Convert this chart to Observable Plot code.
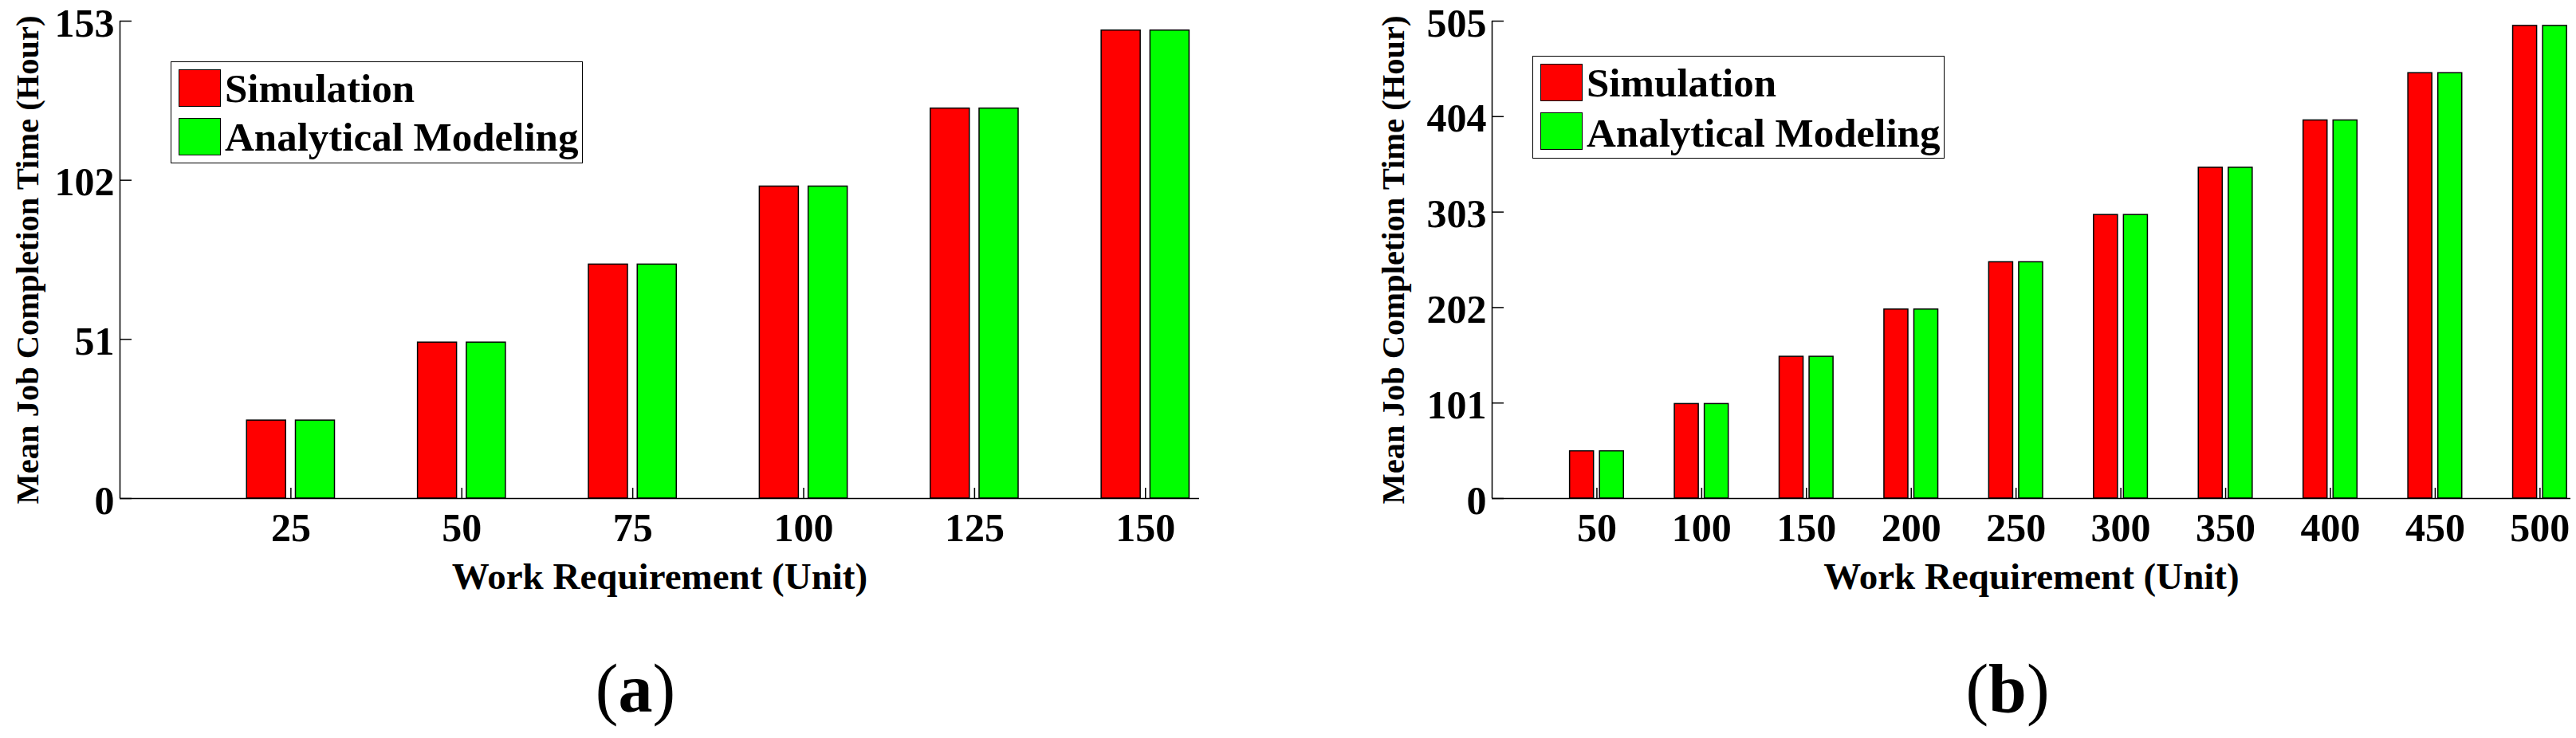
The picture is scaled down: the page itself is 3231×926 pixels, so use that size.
<!DOCTYPE html>
<html>
<head>
<meta charset="utf-8">
<script src="https://cdn.jsdelivr.net/npm/d3@7"></script>
<script src="https://cdn.jsdelivr.net/npm/@observablehq/plot@0.6"></script>
<style>
  html, body { margin: 0; padding: 0; background: #fff; }
  #wrap { position: relative; width: 3231px; height: 926px; overflow: hidden; background: #fff;
          font-family: "Liberation Serif", "Times New Roman", serif; }
  .panel { position: absolute; top: 0; }
  .legend { position: absolute; box-sizing: border-box; border: 1.5px solid #000; background: #fff; }
  .legend .sw { position: absolute; box-sizing: border-box; width: 53px; height: 47px; border: 1px solid #000; }
  .legend .lb { position: absolute; font-weight: bold; font-size: 51px; line-height: 51px; white-space: nowrap; color: #000; }
  .caption { position: absolute; width: 400px; text-align: center; font-size: 86px; line-height: 86px; color: #000; }
  .caption b { font-weight: bold; }
</style>
</head>
<body>
<div id="wrap"></div>
<script>
// ---------- data ----------
const seriesNames = ["Simulation", "Analytical Modeling"];
const seriesColors = ["#ff0000", "#00ff00"];

const workA = [25, 50, 75, 100, 125, 150];
const simA  = [25, 50, 75, 100, 125, 150];
const anaA  = [25, 50, 75, 100, 125, 150];
const yTicksA = [0, 51, 102, 153];
const xLimA = [0, 157.9];

const workB = [50, 100, 150, 200, 250, 300, 350, 400, 450, 500];
const simB  = [50, 100, 150, 200, 250, 300, 350, 400, 450, 500];
const anaB  = [50, 100, 150, 200, 250, 300, 350, 400, 450, 500];
const yTicksB = [0, 101, 202, 303, 404, 505];
const xLimB = [0, 514.7];

const xTitle = "Work Requirement (Unit)";
const yTitle = "Mean Job Completion Time (Hour)";
const captions = ["a", "b"];

// ---------- drawing ----------
const H = 760, MT = 26, MB = 135;

function panel({work, sim, ana, yTicks, xLim, step, width, marginLeft, marginRight, yLabelOffset}) {
  const rows = work.flatMap((w, i) => [
    {work: w, value: sim[i], series: seriesNames[0]},
    {work: w, value: ana[i], series: seriesNames[1]}
  ]);
  // MATLAB grouped-bar geometry (2 bars per group)
  const gw = Math.min(0.8, 2 / (2 + 1.5));
  const bw = 0.8 * gw / 2;
  const off = {[seriesNames[0]]: -gw / 4, [seriesNames[1]]: gw / 4};
  const innerWidth = width - marginLeft - marginRight;
  const innerHeight = H - MT - MB;
  return Plot.plot({
    width, height: H, marginLeft, marginRight, marginTop: MT, marginBottom: MB,
    style: {fontFamily: '"Liberation Serif", "Times New Roman", serif', fontWeight: "bold",
            background: "transparent", overflow: "visible", color: "#000"},
    x: {type: "linear", domain: xLim},
    y: {type: "linear", domain: [0, yTicks[yTicks.length - 1]]},
    color: {domain: seriesNames, range: seriesColors},
    marks: [
      Plot.rect(rows, {
        x1: d => d.work + (off[d.series] - bw / 2) * step,
        x2: d => d.work + (off[d.series] + bw / 2) * step,
        y1: 0, y2: "value", fill: "series", stroke: "#000", strokeWidth: 1.5
      }),
      Plot.ruleY([0], {stroke: "#000", strokeWidth: 1.5}),
      Plot.ruleX([0], {stroke: "#000", strokeWidth: 1.5}),
      Plot.tickY(yTicks, {y: d => d, insetRight: innerWidth - 15, stroke: "#000", strokeWidth: 1.5}),
      Plot.tickX(work, {x: d => d, insetTop: innerHeight - 13, stroke: "#000", strokeWidth: 1.5}),
      Plot.axisY({ticks: yTicks, tickSize: 0, tickPadding: 7, fontSize: 50, dy: 3, label: null}),
      Plot.axisX({ticks: work, tickSize: 0, tickPadding: 18, fontSize: 50, label: null}),
      Plot.axisY({ticks: [], tickSize: 0, label: yTitle, labelAnchor: "center", labelArrow: "none",
                  labelOffset: yLabelOffset, fontSize: 40.5}),
      Plot.axisX({ticks: [], tickSize: 0, label: xTitle, labelAnchor: "center", labelArrow: "none",
                  labelOffset: 113, fontSize: 47})
    ]
  });
}

function legend(left, top, width, height, textTops) {
  const box = document.createElement("div");
  box.className = "legend";
  Object.assign(box.style, {left: left + "px", top: top + "px", width: width + "px", height: height + "px"});
  seriesNames.forEach((name, i) => {
    const sw = document.createElement("div");
    sw.className = "sw";
    sw.style.background = seriesColors[i];
    sw.style.left = "8.5px";
    sw.style.top = (8.5 + i * 61) + "px";
    box.appendChild(sw);
    const lb = document.createElement("div");
    lb.className = "lb";
    lb.textContent = name;
    lb.style.left = "67px";
    lb.style.top = textTops[i] + "px";
    box.appendChild(lb);
  });
  return box;
}

function caption(letter, centerX) {
  const c = document.createElement("div");
  c.className = "caption";
  c.style.left = (centerX - 200) + "px";
  c.style.top = "821px";
  c.innerHTML = "(<b>" + letter + "</b>)";
  return c;
}

const wrap = document.getElementById("wrap");

const pA = panel({work: workA, sim: simA, ana: anaA, yTicks: yTicksA, xLim: xLimA, step: 25,
                  width: 1615, marginLeft: 150, marginRight: 111, yLabelOffset: 131});
const dA = document.createElement("div"); dA.className = "panel"; dA.style.left = "0px"; dA.appendChild(pA);
wrap.appendChild(dA);

const pB = panel({work: workB, sim: simB, ana: anaB, yTicks: yTicksB, xLim: xLimB, step: 50,
                  width: 1616, marginLeft: 256, marginRight: 7, yLabelOffset: 139});
const dB = document.createElement("div"); dB.className = "panel"; dB.style.left = "1615px"; dB.appendChild(pB);
wrap.appendChild(dB);

wrap.appendChild(legend(214, 77, 517, 128, [8, 69]));
wrap.appendChild(legend(1922, 70, 517, 129, [8, 71]));

wrap.appendChild(caption(captions[0], 797));
wrap.appendChild(caption(captions[1], 2518));
</script>
</body>
</html>
